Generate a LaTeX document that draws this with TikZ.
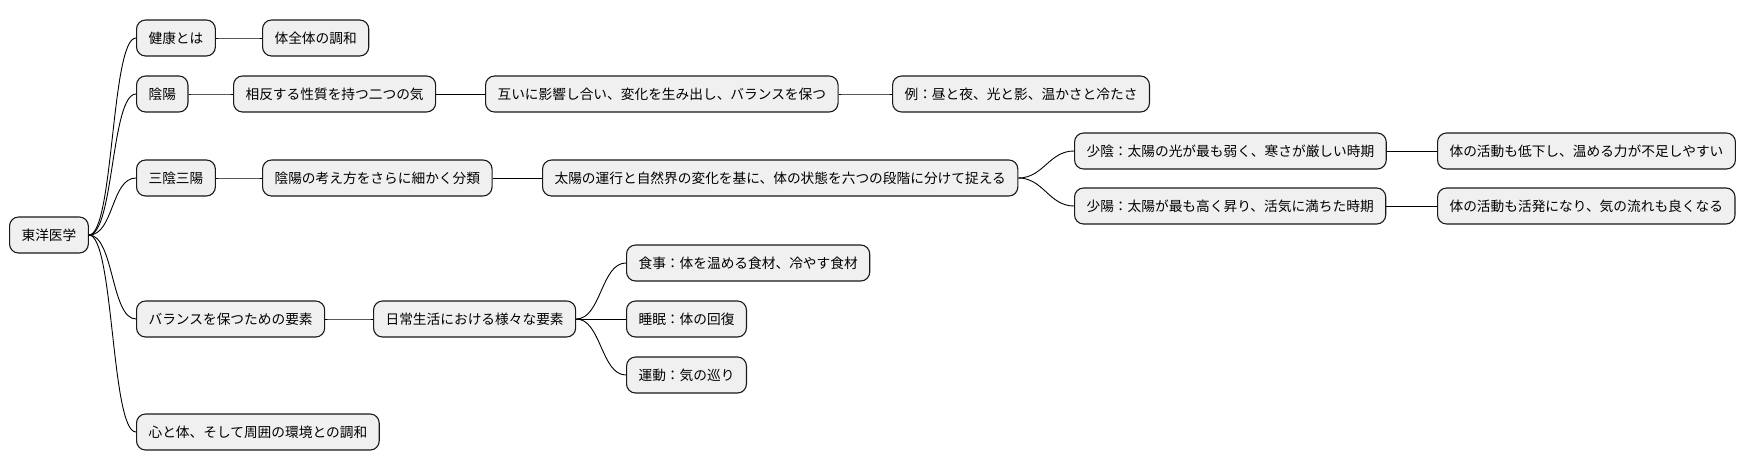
\documentclass[tikz,border=0pt]{standalone}
\usepackage{fontspec}
\setmainfont{Noto Sans CJK JP}
\begin{document}
\begin{tikzpicture}[x=1pt,y=-1pt,
  n/.style={draw=black!90,line width=1.1pt,fill=black!6,rounded corners=9pt,anchor=west,minimum height=36pt,inner xsep=12pt,inner ysep=0pt,font=\fontsize{13.7}{16}\selectfont},
  e/.style={line width=0.9pt}]
\useasboundingbox (0,0) rectangle (1748,471);
\node[n] (r) at (9,235) {東洋医学};
\node[n] (a) at (136,38) {健康とは};
\node[n] (a1) at (262,38) {体全体の調和};
\node[n] (b) at (136,94) {陰陽};
\node[n] (b1) at (233,94) {相反する性質を持つ二つの気};
\node[n] (b2) at (485,94) {互いに影響し合い、変化を生み出し、バランスを保つ};
\node[n] (b3) at (892,94) {例：昼と夜、光と影、温かさと冷たさ};
\node[n] (c) at (136,178) {三陰三陽};
\node[n] (c1) at (262,178) {陰陽の考え方をさらに細かく分類};
\node[n] (c2) at (542,178) {太陽の運行と自然界の変化を基に、体の状態を六つの段階に分けて捉える};
\node[n] (c3) at (1074,151) {少陰：太陽の光が最も弱く、寒さが厳しい時期};
\node[n] (c31) at (1437,151) {体の活動も低下し、温める力が不足しやすい};
\node[n] (c4) at (1074,206) {少陽：太陽が最も高く昇り、活気に満ちた時期};
\node[n] (c41) at (1437,206) {体の活動も活発になり、気の流れも良くなる};
\node[n] (d) at (136,319) {バランスを保つための要素};
\node[n] (d1) at (373,319) {日常生活における様々な要素};
\node[n] (d2) at (626,263) {食事：体を温める食材、冷やす食材};
\node[n] (d3) at (626,319) {睡眠：体の回復};
\node[n] (d4) at (626,375) {運動：気の巡り};
\node[n] (f) at (136,432) {心と体、そして周囲の環境との調和};
\foreach \p/\c in {r/a,r/b,r/c,r/d,r/f,a/a1,b/b1,b1/b2,b2/b3,c/c1,c1/c2,c2/c3,c2/c4,c3/c31,c4/c41,d/d1,d1/d2,d1/d3,d1/d4}{
  \draw[e] (\p.east) .. controls ([xshift=25pt]\p.east) and ([xshift=-25pt]\c.west) .. (\c.west);
}
\end{tikzpicture}
\end{document}
